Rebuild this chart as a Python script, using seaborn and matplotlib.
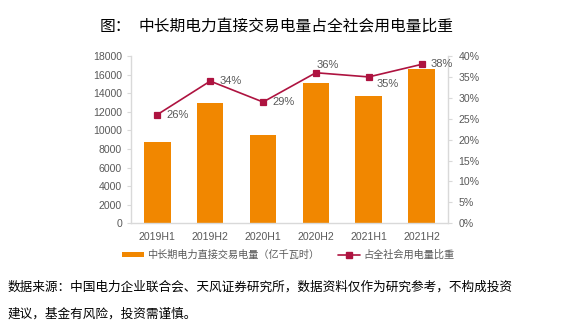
import matplotlib
matplotlib.use("Agg")
import matplotlib.pyplot as plt
from matplotlib.lines import Line2D
from matplotlib.patches import Patch
from matplotlib.ticker import FuncFormatter, MultipleLocator
import seaborn as sns

# Data
periods = ["2019H1", "2019H2", "2020H1", "2020H2", "2021H1", "2021H2"]
volume = [8800, 12900, 9550, 15150, 13700, 16600]      # 亿千瓦时
share = [26, 34, 29, 36, 35, 38]                        # %
bar_label = "中长期电力直接交易电量（亿千瓦时）"
line_label = "占全社会用电量比重"

BAR_COLOR = "#F18700"
LINE_COLOR = "#AE1340"
TICK_COLOR = "#595959"
SPINE_COLOR = "#D9D9D9"

sns.set_style("white")
plt.rcParams["font.family"] = ["Liberation Sans", "Noto Sans CJK SC", "DejaVu Sans"]

fig = plt.figure(figsize=(5.67, 3.34), dpi=100)
ax = fig.add_axes([0.231, 0.3314, 0.559, 0.5009])
ax2 = ax.twinx()

sns.barplot(x=periods, y=volume, ax=ax, color=BAR_COLOR, width=0.5,
            saturation=1, edgecolor="none")
sns.pointplot(x=periods, y=share, ax=ax2, color=LINE_COLOR, markers="s",
              linestyles="-", markersize=4.3, linewidth=1.2, errorbar=None)

ax.set_ylim(0, 18000)
ax.yaxis.set_major_locator(MultipleLocator(2000))
ax2.set_ylim(0, 40)
ax2.yaxis.set_major_locator(MultipleLocator(5))
ax2.yaxis.set_major_formatter(FuncFormatter(lambda v, _: f"{v:.0f}%"))
ax.set_xlim(-0.5, len(periods) - 0.5)

for a in (ax, ax2):
    a.set_xlabel("")
    a.set_ylabel("")
    for s in a.spines.values():
        s.set_visible(False)

ax.spines["left"].set_visible(True)
ax.spines["bottom"].set_visible(True)
ax2.spines["right"].set_visible(True)
for s in (ax.spines["left"], ax.spines["bottom"], ax2.spines["right"]):
    s.set_color(SPINE_COLOR)
    s.set_linewidth(1.0)

ax.tick_params(axis="y", colors=SPINE_COLOR, labelcolor=TICK_COLOR,
               labelsize=7.6, length=3, width=0.8, pad=3.5, left=True)
ax.tick_params(axis="x", length=0, labelcolor=TICK_COLOR, labelsize=7.6, pad=6)
ax2.tick_params(axis="y", colors=SPINE_COLOR, labelcolor=TICK_COLOR,
                labelsize=7.6, length=3, width=0.8, pad=4.5, right=True)

# Percentage labels beside the line markers (pixel offsets)
offsets = [(9, 0, "left", "center"), (9, 0, "left", "center"),
           (9, 0, "left", "center"), (1, 8, "left", "center"),
           (8, -7, "left", "center"), (9, 0, "left", "center")]
for i, (v, (dx, dy, ha, va)) in enumerate(zip(share, offsets)):
    ax2.annotate(f"{v}%", xy=(i, v), xytext=(dx, dy),
                 textcoords="offset pixels", ha=ha, va=va,
                 fontsize=8, color=TICK_COLOR)

# Legend
handles = [
    Patch(facecolor=BAR_COLOR, edgecolor="none", label=bar_label),
    Line2D([0], [0], color=LINE_COLOR, lw=1.2, marker="s", markersize=4.3,
           label=line_label),
]
fig.legend(handles=handles, loc="center", bbox_to_anchor=(288 / 567, 1 - 255 / 334),
           ncol=2, frameon=False, fontsize=7.3, handlelength=2.2,
           handleheight=0.5, handletextpad=0.25, columnspacing=1.9,
           labelcolor=TICK_COLOR,
           prop={"family": ["Noto Sans CJK SC", "DejaVu Sans"], "size": 7.3})

# Title
fig.text(100 / 567, 1 - 27 / 334, "图：", fontsize=11.3, color="black",
         ha="left", va="center", family=["Noto Sans CJK SC", "DejaVu Sans"])
fig.text(138 / 567, 1 - 27 / 334, "中长期电力直接交易电量占全社会用电量比重",
         fontsize=11.3, color="black", ha="left", va="center",
         family=["Noto Sans CJK SC", "DejaVu Sans"])

# Source note
note1 = "数据来源：中国电力企业联合会、天风证券研究所，数据资料仅作为研究参考，不构成投资"
note2 = "建议，基金有风险，投资需谨慎。"
fig.text(8 / 567, 1 - 287 / 334, note1, fontsize=9.1, color="black",
         ha="left", va="center", family=["Noto Sans CJK SC", "DejaVu Sans"])
fig.text(8 / 567, 1 - 314 / 334, note2, fontsize=9.1, color="black",
         ha="left", va="center", family=["Noto Sans CJK SC", "DejaVu Sans"])

fig.savefig("out.png", dpi=100)
